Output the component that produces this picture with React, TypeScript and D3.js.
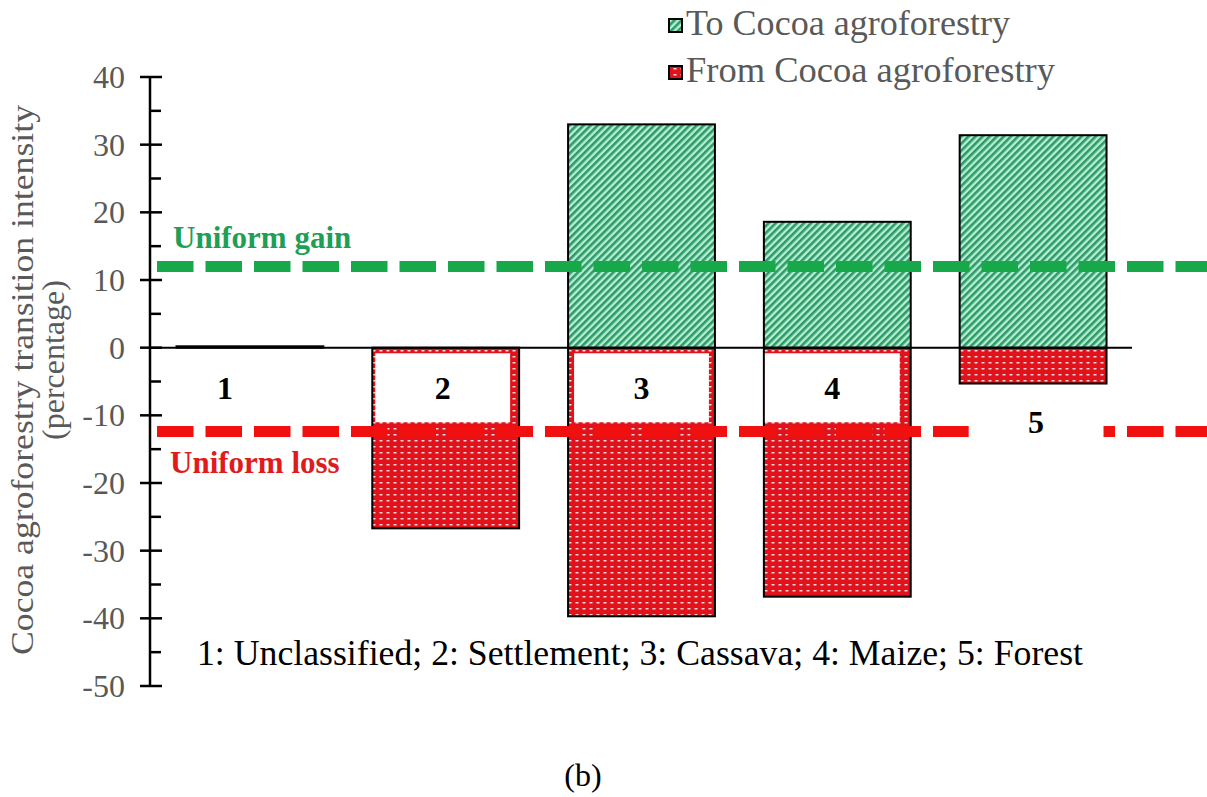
import React from "react";
import * as d3 from "d3";

const categories = ["1", "2", "3", "4", "5"];
const toCocoa = [0.2, 0, 33, 18.6, 31.4];
const fromCocoa = [0, -26.7, -39.7, -36.8, -5.3];
const labelValue = [-6, -6, -6, -6, -11];
const labelShift = [-25, -3, 0, -5, 3];
const uniformGain = 12;
const uniformLoss = -12.4;
const yTicks = [40, 30, 20, 10, 0, -10, -20, -30, -40, -50];
const minorTicks = [35, 25, 15, 5, -5, -15, -25, -35, -45];
const legendItems = ["To Cocoa agroforestry", "From Cocoa agroforestry"];
const legendLengths = [324, 369];
const footnote = "1: Unclassified; 2: Settlement; 3: Cassava; 4: Maize; 5: Forest";

const W = 1207;
const H = 797;
const serif = "'Liberation Serif', 'Times New Roman', serif";
const gray = "#595959";
const greenLine = "#17a84a";
const redLine = "#f01010";

export default function App() {
  const x = d3.scaleBand<string>().domain(categories).range([152, 1131]).paddingInner(0.25).paddingOuter(0.125);
  const y = d3.scaleLinear().domain([-50, 40]).range([686, 77]);
  const bw = x.bandwidth();
  const axisX = 150;

  return (
    <svg width={W} height={H} style={{ position: "absolute", left: 0, top: 0, background: "#fff" }}>
      <defs>
        <pattern id="greenHatch" width="5" height="5" patternUnits="userSpaceOnUse" patternTransform="rotate(45)">
          <rect width="5" height="5" fill="#b5efd3" />
          <rect x="0" width="2.6" height="5" fill="#2e9a68" />
        </pattern>
        <pattern id="redDots" width="7" height="6" patternUnits="userSpaceOnUse">
          <rect width="7" height="6" fill="#e0121b" />
          <rect x="1.5" y="2" width="3" height="1.5" fill="#fbd6d6" />
        </pattern>
      </defs>

      {/* bars */}
      {categories.map((c, i) => {
        const x0 = x(c)!;
        return (
          <g key={c}>
            {fromCocoa[i] < 0 && (
              <rect x={x0} y={y(0)} width={bw} height={y(fromCocoa[i]) - y(0)} fill="url(#redDots)" stroke="#000" strokeWidth={2} />
            )}
            {toCocoa[i] > 0 && (
              <rect x={x0} y={y(toCocoa[i])} width={bw} height={y(0) - y(toCocoa[i])} fill="url(#greenHatch)" stroke="#000" strokeWidth={2} />
            )}
          </g>
        );
      })}

      {/* zero line */}
      <line x1={axisX} x2={1132} y1={y(0)} y2={y(0)} stroke="#000" strokeWidth={2} />

      {/* uniform lines */}
      <line x1={157} x2={W} y1={y(uniformGain)} y2={y(uniformGain)} stroke={greenLine} strokeWidth={11} strokeDasharray="36.5 12" />
      <line x1={157} x2={W} y1={y(uniformLoss)} y2={y(uniformLoss)} stroke={redLine} strokeWidth={11} strokeDasharray="36.5 12" />

      {/* category labels with white boxes */}
      {categories.map((c, i) => {
        const cx = x(c)! + bw / 2 + labelShift[i];
        const cy = y(labelValue[i]);
        const bx = i === 0 ? x(c)! + bw / 2 : cx;
        return (
          <g key={"lab" + c}>
            {i > 0 && <rect x={bx - (bw - 12) / 2} y={cy - 35} width={bw - 12} height={69} fill="#fff" />}
            <text x={cx} y={cy + 11} textAnchor="middle" fontFamily={serif} fontWeight="bold" fontSize={32} fill="#000">
              {c}
            </text>
          </g>
        );
      })}

      {/* y axis */}
      <line x1={axisX} x2={axisX} y1={y(40)} y2={y(-50)} stroke="#000" strokeWidth={2.5} />
      {yTicks.map((t) => (
        <g key={t}>
          <line x1={axisX - 10} x2={axisX + 12} y1={y(t)} y2={y(t)} stroke="#000" strokeWidth={2.5} />
          <text x={125} y={y(t) + 11} textAnchor="end" fontFamily={serif} fontSize={32} fill={gray}>
            {t}
          </text>
        </g>
      ))}
      {minorTicks.map((t) => (
        <line key={"m" + t} x1={axisX} x2={axisX + 11} y1={y(t)} y2={y(t)} stroke="#000" strokeWidth={2.5} />
      ))}

      {/* y title */}
      <text transform={`translate(33,380) rotate(-90)`} textAnchor="middle" fontFamily={serif} fontSize={32} fill={gray} textLength={550} lengthAdjust="spacingAndGlyphs">
        Cocoa agroforestry transition intensity
      </text>
      <text transform={`translate(64,360) rotate(-90)`} textAnchor="middle" fontFamily={serif} fontSize={32} fill={gray}>
        (percentage)
      </text>

      {/* uniform text */}
      <text x={173} y={248} fontFamily={serif} fontWeight="bold" fontSize={31} fill="#1f9e55">
        Uniform gain
      </text>
      <text x={170} y={473} fontFamily={serif} fontWeight="bold" fontSize={31} fill="#e01b1b">
        Uniform loss
      </text>

      {/* legend */}
      {legendItems.map((t, i) => (
        <g key={t}>
          <rect x={669} y={19 + i * 47} width={13} height={13} fill={i === 0 ? "url(#greenHatch)" : "url(#redDots)"} stroke="#000" strokeWidth={2} />
          <text x={686} y={35 + i * 47} fontFamily={serif} fontSize={35} fill={gray} textLength={legendLengths[i]} lengthAdjust="spacingAndGlyphs">
            {t}
          </text>
        </g>
      ))}

      {/* footnote */}
      <text x={197} y={665} fontFamily={serif} fontSize={35} fill="#000" textLength={886} lengthAdjust="spacingAndGlyphs">
        {footnote}
      </text>
      <text x={583} y={786} textAnchor="middle" fontFamily={serif} fontSize={32} fill="#000">
        (b)
      </text>
    </svg>
  );
}
